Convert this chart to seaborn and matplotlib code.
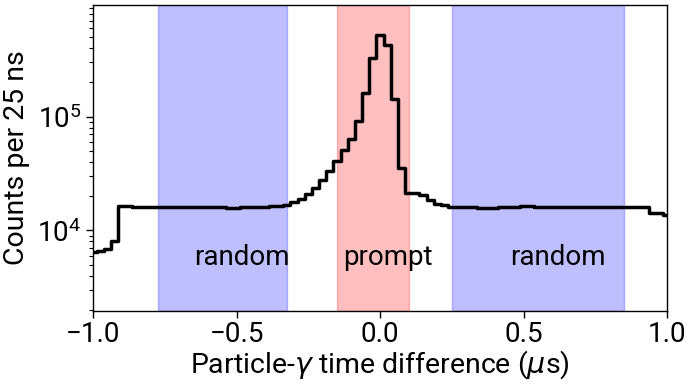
import numpy as np
import pandas as pd
import matplotlib
matplotlib.use("Agg")
import matplotlib.pyplot as plt
import seaborn as sns

# Bin centres (25 ns bins) in microseconds
time_us = np.round(np.arange(-1.0, 1.0001, 0.025), 4)

# Counts per 25 ns bin
counts = [
    6470, 6600, 6900, 8000,
    16300, 16300, 16200, 16200, 16100, 16100, 16200, 16000, 16000, 16100,
    15900, 16000, 16000, 16100, 16000, 15800, 15800, 16000, 16000, 16100,
    16200, 16300, 16500,
    16800, 17600, 18800, 20800, 23800, 27900, 33100, 40500, 50600, 64100,
    92200, 161000, 329000, 524000, 430000, 142600, 35200, 21300, 21200,
    20600, 18600, 17200,
    16600, 16200, 16100, 16000, 15900, 15800, 15700, 15700, 16000, 16000,
    16100, 16500, 16400, 16000, 15900, 16000, 16100, 16000, 15900, 16000,
    16000, 15900, 16000, 16100, 16100, 16000, 16100, 16200, 16200,
    14200, 14200, 13600,
]

# Coincidence windows (microseconds)
random_windows = [(-0.775, -0.325), (0.25, 0.85)]
prompt_window = (-0.15, 0.10)
window_labels = ["random", "prompt", "random"]
label_x = [-0.48, 0.028, 0.62]
label_y = 5800

df = pd.DataFrame({"time": time_us, "counts": counts})

sns.set_style("ticks")
plt.rcParams["font.family"] = ["Roboto", "DejaVu Sans"]
plt.rcParams["mathtext.fontset"] = "dejavusans"
plt.rcParams["axes.unicode_minus"] = True
for key in ["text.color", "axes.labelcolor", "xtick.color", "ytick.color",
            "axes.edgecolor"]:
    plt.rcParams[key] = "black"

fig = plt.figure(figsize=(6.88, 3.84), dpi=100)
ax = fig.add_axes([0.1352, 0.190, 0.8343, 0.797])

for lo, hi in random_windows:
    ax.axvspan(lo, hi, color="blue", alpha=0.25, lw=1)
ax.axvspan(*prompt_window, color="red", alpha=0.25, lw=1)

sns.lineplot(data=df, x="time", y="counts", ax=ax, color="black",
             linewidth=2.5, drawstyle="steps-mid", estimator=None)

for x, t in zip(label_x, window_labels):
    ax.text(x, label_y, t, ha="center", va="center", fontsize=20)

ax.set_yscale("log")
ax.set_xlim(-1.0, 1.0)
ax.set_ylim(1950, 9.6e5)
ax.set_xticks([-1.0, -0.5, 0.0, 0.5, 1.0])
ax.set_xticklabels(["\u22121.0", "\u22120.5", "0.0", "0.5", "1.0"])
ax.tick_params(axis="both", which="major", labelsize=20, length=5, width=1)
ax.tick_params(axis="x", which="major", pad=2)
ax.tick_params(axis="y", which="minor", length=3, width=0.8)
for s in ax.spines.values():
    s.set_linewidth(1.0)
    s.set_color("black")

ax.set_xlabel("Particle-$\\gamma$ time difference ($\\mu$s)", fontsize=20.5, labelpad=0)
ax.set_ylabel("Counts per 25 ns", fontsize=20.5, labelpad=5)

fig.savefig("out.png", dpi=100)
